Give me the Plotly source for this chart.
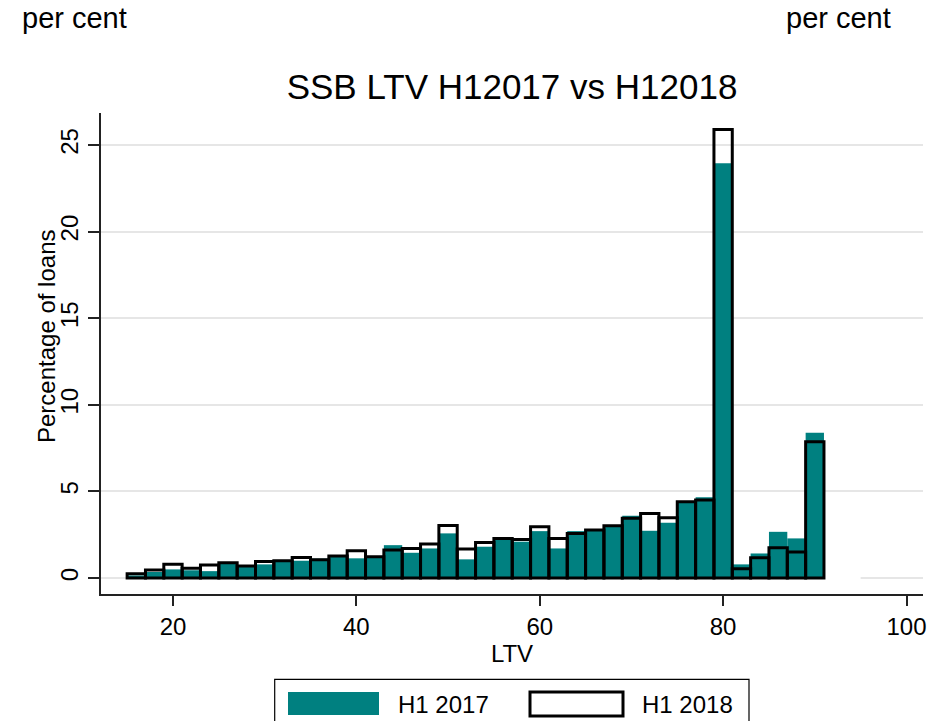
import plotly.graph_objects as go

# LTV bin starts (2-point bins from 15 to 91)
bin_start = list(range(15, 91, 2))
h1_2017 = [0.15, 0.35, 0.50, 0.45, 0.40, 0.85, 0.68, 0.79, 0.98, 1.00,
           1.12, 1.25, 1.14, 1.25, 1.90, 1.46, 1.71, 2.58, 1.08, 1.81,
           2.20, 2.10, 2.71, 1.71, 2.71, 2.75, 3.00, 3.60, 2.73, 3.19,
           4.37, 4.66, 23.95, 0.79, 1.42, 2.67, 2.29, 8.39]
h1_2018 = [0.25, 0.46, 0.80, 0.56, 0.75, 0.88, 0.69, 0.96, 1.00, 1.19,
           1.06, 1.27, 1.58, 1.23, 1.62, 1.71, 1.96, 3.04, 1.68, 2.06,
           2.29, 2.23, 2.96, 2.29, 2.58, 2.77, 3.02, 3.45, 3.73, 3.48,
           4.40, 4.50, 25.90, 0.54, 1.17, 1.75, 1.50, 7.87]
bin_width = 2
x_centers = [b + bin_width / 2 for b in bin_start]

y_ticks = [0, 5, 10, 15, 20, 25]
x_ticks = [20, 40, 60, 80, 100]

TEAL = "#008080"
FONT = "Liberation Sans, Arial, sans-serif"

fig = go.Figure()
fig.add_trace(go.Bar(x=x_centers, y=h1_2017, width=bin_width, name="H1 2017",
                     marker=dict(color=TEAL, line=dict(width=0))))
fig.add_trace(go.Bar(x=x_centers, y=h1_2018, width=bin_width, name="H1 2018",
                     marker=dict(color="rgba(0,0,0,0)", line=dict(color="black", width=3))))

fig.update_layout(
    width=943, height=721,
    barmode="overlay",
    showlegend=False,
    plot_bgcolor="white", paper_bgcolor="white",
    margin=dict(l=101, r=20, t=113, b=127, autoexpand=False),
    font=dict(family=FONT, size=24, color="black"),
    title=dict(text="SSB LTV H12017 vs H12018", x=0.5, xref="paper",
               y=1 - 87 / 721, yref="container", yanchor="middle", xanchor="center",
               font=dict(size=35, color="black", family=FONT)),
)

fig.update_xaxes(range=[12.15, 101.8], tickvals=x_ticks, showgrid=False, zeroline=False,
                 showline=True, linecolor="#222", linewidth=2, ticks="outside",
                 ticklen=10, tickwidth=1.5, tickcolor="#222",
                 tickfont=dict(size=24), title=dict(text="LTV", font=dict(size=24), standoff=4))
fig.update_yaxes(range=[-0.92, 26.85], tickvals=y_ticks, showgrid=True, gridcolor="#e6e6e6",
                 gridwidth=2, zeroline=False, showline=True, linecolor="#222", linewidth=2,
                 ticks="outside", ticklen=11, tickwidth=1.5, tickcolor="#222", tickangle=-90,
                 tickfont=dict(size=24))

def px_x(p):
    return (p - 101) / 822

def px_y(p):
    return (594 - p) / 481

# y-axis title
fig.add_annotation(text="Percentage of loans", xref="paper", yref="paper", x=px_x(46), y=px_y(337),
                   textangle=-90, xanchor="center", yanchor="middle", showarrow=False,
                   font=dict(size=24))

# blank area right of last bin (as in reference)
last_edge = bin_start[-1] + bin_width
fig.add_shape(type="rect", xref="x", yref="y", x0=last_edge, x1=95, y0=-0.2, y1=0.2,
              fillcolor="white", line=dict(width=0), layer="between")

# "per cent" labels
fig.add_annotation(text="per cent", xref="paper", yref="paper", x=-0.0985, y=1 + 95 / 481,
                   xanchor="left", yanchor="middle", showarrow=False, font=dict(size=29))
fig.add_annotation(text="per cent", xref="paper", yref="paper", x=(893 - 101) / 822, y=1 + 95 / 481,
                   xanchor="right", yanchor="middle", showarrow=False, font=dict(size=29))

# custom legend
fig.add_shape(type="rect", xref="paper", yref="paper", x0=px_x(274.7), x1=px_x(749),
              y0=px_y(740), y1=px_y(679.3), line=dict(color="black", width=1.2), fillcolor="white")
fig.add_shape(type="rect", xref="paper", yref="paper", x0=px_x(288), x1=px_x(379),
              y0=px_y(715), y1=px_y(692), line=dict(width=0), fillcolor=TEAL)
fig.add_shape(type="rect", xref="paper", yref="paper", x0=px_x(530), x1=px_x(623),
              y0=px_y(716), y1=px_y(692), line=dict(color="black", width=3), fillcolor="white")
fig.add_annotation(text="H1 2017", xref="paper", yref="paper", x=px_x(396), y=px_y(704),
                   xanchor="left", yanchor="middle", showarrow=False, font=dict(size=24))
fig.add_annotation(text="H1 2018", xref="paper", yref="paper", x=px_x(640), y=px_y(704),
                   xanchor="left", yanchor="middle", showarrow=False, font=dict(size=24))

fig.write_html("out.html", config={"displayModeBar": False},
               post_script="document.body.style.margin='0';document.body.style.overflow='hidden';")
